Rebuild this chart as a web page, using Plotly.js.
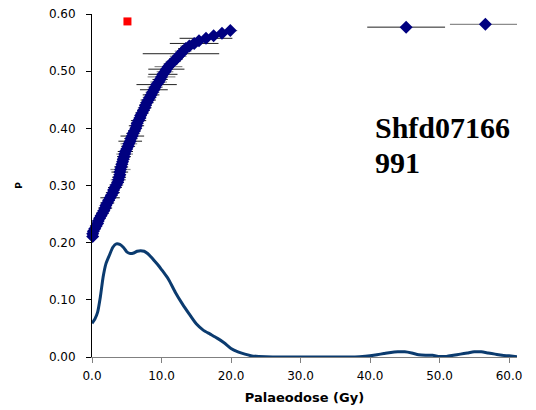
<!DOCTYPE html>
<html>
<head>
<meta charset="utf-8">
<script src="https://cdn.plot.ly/plotly-3.0.1.min.js"></script>
<style>html,body{margin:0;padding:0;background:#fff;}#chart{width:536px;height:410px;}</style>
</head>
<body>
<div id="chart"></div>
<script>
// Ranked palaeodose estimates (Gy), their probability position P and error (Gy)
const doses = [0.1,0.1,0.2,0.4,0.6,0.8,0.9,1.1,1.3,1.5,
  1.7,1.9,2.0,2.2,2.4,2.6,2.8,3.0,3.1,3.3,
  3.5,3.7,3.8,3.9,4.0,4.0,4.1,4.2,4.3,4.4,
  4.5,4.6,4.7,4.8,5.0,5.2,5.3,5.5,5.6,5.8,
  5.9,6.1,6.3,6.4,6.5,6.7,6.9,7.0,7.2,7.4,
  7.6,7.7,7.9,8.1,8.3,8.5,8.7,8.9,9.1,9.3,
  9.6,9.8,10.0,10.2,10.5,10.7,11.0,11.3,11.7,12.1,
  12.4,12.8,13.1,13.5,14.0,14.7,15.4,16.4,17.5,18.7,19.9,
  45.2,56.6];
const pValues = [0.211,0.2155,0.220,0.2245,0.229,0.2335,0.238,0.2425,0.247,0.2515,
  0.256,0.2605,0.265,0.2695,0.274,0.2785,0.283,0.2875,0.292,0.2965,
  0.301,0.3055,0.310,0.3145,0.319,0.3235,0.328,0.3325,0.337,0.3415,
  0.346,0.3505,0.355,0.3595,0.364,0.3685,0.373,0.3775,0.382,0.3865,
  0.391,0.3955,0.400,0.4045,0.409,0.4135,0.418,0.4225,0.427,0.4315,
  0.436,0.4405,0.445,0.4495,0.454,0.4585,0.463,0.4675,0.472,0.4765,
  0.481,0.4855,0.490,0.4945,0.499,0.5035,0.508,0.5125,0.517,0.5215,
  0.526,0.5305,0.535,0.5395,0.544,0.5485,0.553,0.5575,0.562,0.5665,0.571,
  0.577,0.582];
const doseErrors = [0.4,0.5,0.5,0.6,0.6,0.7,0.7,0.8,0.8,0.9,
  0.9,1.0,0.8,1.0,0.9,1.4,0.9,1.0,0.8,1.0,
  1.0,0.9,1.1,1.0,0.9,1.2,1.45,1.0,0.9,0.8,
  0.9,1.0,1.2,1.1,0.8,1.0,1.2,1.7,1.0,1.7,
  1.0,0.9,0.8,1.1,0.9,1.1,0.9,0.8,1.0,0.9,
  1.0,0.9,1.0,1.1,1.0,1.2,1.0,2.0,1.1,2.9,
  1.2,1.1,2.0,2.1,1.2,2.6,2.0,1.0,1.1,1.0,
  1.2,5.5,1.2,1.1,1.3,3.5,1.4,3.8,1.5,1.2,1.0,
  5.6,5.1];
// Single highlighted point
const markDose = [5.1];
const markP = [0.587];
// Probability density curve
const kdeX = [0,0.4,0.8,1.2,1.6,2.0,2.5,3.0,3.5,4.0,4.5,5.0,5.5,6.0,6.5,7.0,7.5,8.0,8.5,9.0,9.5,10,11,12,13,14,15,16,17,18,19,20,21,22,23,24,26,30,34,37,38.5,40,41,42,43,44,45,46,47,48,49,50,51,52,53,54,55,56,57,58,59,60,61.15];
const kdeY = [0.059,0.066,0.078,0.105,0.140,0.163,0.178,0.192,0.198,0.197,0.192,0.184,0.181,0.182,0.185,0.186,0.185,0.181,0.175,0.168,0.161,0.153,0.136,0.113,0.093,0.075,0.058,0.047,0.040,0.033,0.025,0.015,0.009,0.005,0.002,0.001,0,0,0,0,0.0005,0.002,0.004,0.006,0.008,0.009,0.009,0.007,0.004,0.003,0.003,0.001,0.001,0.003,0.005,0.007,0.009,0.009,0.007,0.005,0.003,0.002,0.0005];
const xTicks = [0,10,20,30,40,50,60];
const yTicks = [0,0.1,0.2,0.3,0.4,0.5,0.6];

function pick(arr, odd){ return arr.filter((v,i)=> (i%2===1)===odd); }

const traces = [
  {x: kdeX, y: kdeY, type:'scatter', mode:'lines', line:{color:'#0b3b6f', width:3, shape:'spline', smoothing:0.6}, cliponaxis:false, hoverinfo:'skip'},
  {x: pick(doses,false), y: pick(pValues,false), type:'scatter', mode:'markers', marker:{opacity:0},
   error_x:{type:'data', array: pick(doseErrors,false), visible:true, color:'#8c8c8c', thickness:1.2, width:0}, cliponaxis:false},
  {x: pick(doses,true), y: pick(pValues,true), type:'scatter', mode:'markers', marker:{opacity:0},
   error_x:{type:'data', array: pick(doseErrors,true), visible:true, color:'#202020', thickness:1, width:0}, cliponaxis:false},
  {x: doses, y: pValues, type:'scatter', mode:'markers', marker:{symbol:'diamond', size:10, color:'#000080'}, cliponaxis:false},
  {x: markDose, y: markP, type:'scatter', mode:'markers', marker:{symbol:'square', size:8, color:'#ff0000'}, cliponaxis:false}
];

const layout = {
  width:536, height:410,
  margin:{l:92, r:19, t:14, b:53},
  paper_bgcolor:'#fff', plot_bgcolor:'#fff',
  showlegend:false,
  font:{family:'DejaVu Sans, Arial, sans-serif', size:12, color:'#000'},
  xaxis:{range:[0,61.15], tickvals:xTicks, tickformat:'.1f', showgrid:false, zeroline:false,
    showline:true, linecolor:'#808080', linewidth:1, ticks:'outside', ticklen:5, tickcolor:'#808080',
    ticklabelstandoff:3,
    title:{text:'<b>Palaeodose (Gy)</b>', font:{family:'DejaVu Sans, Arial, sans-serif', size:13}, standoff:10}},
  yaxis:{range:[0,0.6], tickvals:yTicks, tickformat:'.2f', showgrid:false, zeroline:false,
    showline:true, linecolor:'#000', linewidth:1, ticks:'outside', ticklen:5, tickcolor:'#000',
    ticklabelstandoff:8,
    title:{text:'<b>P</b>', font:{family:'DejaVu Sans, Arial, sans-serif', size:9}, standoff:24}},
  annotations:[
    {xref:'paper', yref:'paper', x:0.6616, y:0.668, xanchor:'left', yanchor:'middle', showarrow:false,
     text:'<b>Shfd07166</b>', font:{family:'Liberation Serif, Times New Roman, serif', size:30, color:'#000'}},
    {xref:'paper', yref:'paper', x:0.6616, y:0.566, xanchor:'left', yanchor:'middle', showarrow:false,
     text:'<b>991</b>', font:{family:'Liberation Serif, Times New Roman, serif', size:30, color:'#000'}}
  ]
};

Plotly.newPlot('chart', traces, layout, {staticPlot:true, displayModeBar:false});
</script>
</body>
</html>
